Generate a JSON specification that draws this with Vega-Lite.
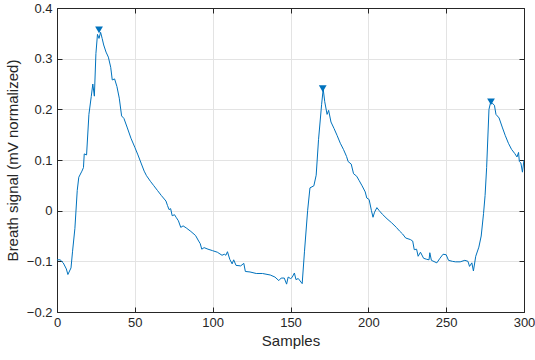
{
  "$schema": "https://vega.github.io/schema/vega-lite/v6.json",
  "width": 467,
  "height": 304,
  "autosize": {"type": "none"},
  "padding": {"left": 57, "top": 8, "right": 11, "bottom": 48},
  "config": {
    "font": "Liberation Sans",
    "view": {"stroke": "#262626", "strokeWidth": 1},
    "axis": {
      "labelFont": "Liberation Sans",
      "titleFont": "Liberation Sans",
      "labelFontSize": 13,
      "titleFontSize": 15,
      "titleFontWeight": "normal",
      "labelColor": "#262626",
      "titleColor": "#262626",
      "tickColor": "#262626",
      "domainColor": "#262626",
      "gridColor": "#e3e3e3",
      "gridOpacity": 1,
      "tickSize": -5
    }
  },
  "datasets": {
    "signal": [
      {"s": 0, "v": -0.097}, {"s": 2, "v": -0.097}, {"s": 4, "v": -0.103}, {"s": 6, "v": -0.115},
      {"s": 7, "v": -0.126}, {"s": 9, "v": -0.113}, {"s": 10, "v": -0.08}, {"s": 11.5, "v": -0.035},
      {"s": 13, "v": 0.04}, {"s": 14, "v": 0.066}, {"s": 16, "v": 0.078}, {"s": 17, "v": 0.085},
      {"s": 17.5, "v": 0.112}, {"s": 19, "v": 0.11}, {"s": 20.5, "v": 0.19}, {"s": 22, "v": 0.225},
      {"s": 23, "v": 0.25}, {"s": 24, "v": 0.226}, {"s": 25, "v": 0.31}, {"s": 26, "v": 0.348},
      {"s": 27, "v": 0.34}, {"s": 28, "v": 0.352}, {"s": 29, "v": 0.34}, {"s": 30, "v": 0.327},
      {"s": 31.5, "v": 0.313}, {"s": 33, "v": 0.303}, {"s": 34.5, "v": 0.283}, {"s": 35.5, "v": 0.258},
      {"s": 37, "v": 0.26}, {"s": 38.5, "v": 0.245}, {"s": 40, "v": 0.222}, {"s": 41.5, "v": 0.187},
      {"s": 43, "v": 0.182}, {"s": 45, "v": 0.165}, {"s": 47.5, "v": 0.143}, {"s": 50, "v": 0.125},
      {"s": 52, "v": 0.11}, {"s": 54, "v": 0.094}, {"s": 56, "v": 0.078}, {"s": 57.5, "v": 0.069},
      {"s": 60, "v": 0.058}, {"s": 62, "v": 0.05}, {"s": 64.5, "v": 0.04}, {"s": 67, "v": 0.03},
      {"s": 70, "v": 0.019}, {"s": 71, "v": 0.01}, {"s": 72, "v": 0.002}, {"s": 73, "v": 0.004},
      {"s": 74, "v": -0.01}, {"s": 75.5, "v": -0.008}, {"s": 76.5, "v": -0.013}, {"s": 78, "v": -0.02},
      {"s": 79.5, "v": -0.033}, {"s": 81, "v": -0.03}, {"s": 83, "v": -0.034}, {"s": 86, "v": -0.041},
      {"s": 89, "v": -0.049}, {"s": 91, "v": -0.06}, {"s": 92, "v": -0.065}, {"s": 93, "v": -0.076},
      {"s": 94.5, "v": -0.073}, {"s": 97, "v": -0.076}, {"s": 100, "v": -0.079}, {"s": 103, "v": -0.082},
      {"s": 106, "v": -0.088}, {"s": 107.5, "v": -0.086}, {"s": 108.5, "v": -0.088}, {"s": 109.5, "v": -0.081},
      {"s": 111, "v": -0.096}, {"s": 112.5, "v": -0.105}, {"s": 113.5, "v": -0.097}, {"s": 115, "v": -0.108},
      {"s": 118, "v": -0.109}, {"s": 120, "v": -0.104}, {"s": 121, "v": -0.12}, {"s": 124, "v": -0.121},
      {"s": 128, "v": -0.124}, {"s": 132, "v": -0.124}, {"s": 137, "v": -0.127}, {"s": 140, "v": -0.131},
      {"s": 142.5, "v": -0.138}, {"s": 144, "v": -0.133}, {"s": 146, "v": -0.133}, {"s": 147.5, "v": -0.145},
      {"s": 148.5, "v": -0.131}, {"s": 150, "v": -0.134}, {"s": 151, "v": -0.132}, {"s": 152.5, "v": -0.123},
      {"s": 153.5, "v": -0.136}, {"s": 155, "v": -0.134}, {"s": 157.5, "v": -0.144}, {"s": 159, "v": -0.08},
      {"s": 161, "v": 0.0}, {"s": 162.5, "v": 0.045}, {"s": 165, "v": 0.049}, {"s": 166.5, "v": 0.07},
      {"s": 168, "v": 0.14}, {"s": 170, "v": 0.21}, {"s": 171, "v": 0.24}, {"s": 172, "v": 0.215},
      {"s": 173.5, "v": 0.19}, {"s": 174.5, "v": 0.198}, {"s": 176, "v": 0.175}, {"s": 178, "v": 0.162},
      {"s": 180, "v": 0.148}, {"s": 182, "v": 0.133}, {"s": 184, "v": 0.121}, {"s": 186, "v": 0.107},
      {"s": 187, "v": 0.097}, {"s": 189, "v": 0.092}, {"s": 190.5, "v": 0.073}, {"s": 192.5, "v": 0.068},
      {"s": 194, "v": 0.06}, {"s": 196, "v": 0.049}, {"s": 198, "v": 0.037}, {"s": 199, "v": 0.025},
      {"s": 200.5, "v": 0.022}, {"s": 202, "v": 0.0}, {"s": 203, "v": -0.013}, {"s": 204, "v": -0.003},
      {"s": 205.5, "v": 0.006}, {"s": 207, "v": 0.0}, {"s": 209, "v": -0.007}, {"s": 212, "v": -0.016},
      {"s": 215, "v": -0.024}, {"s": 218, "v": -0.033}, {"s": 220, "v": -0.04}, {"s": 222, "v": -0.046},
      {"s": 224, "v": -0.054}, {"s": 227, "v": -0.057}, {"s": 228.5, "v": -0.06}, {"s": 229.5, "v": -0.077},
      {"s": 231, "v": -0.076}, {"s": 232, "v": -0.09}, {"s": 233.5, "v": -0.082}, {"s": 235.5, "v": -0.094},
      {"s": 237.5, "v": -0.096}, {"s": 239, "v": -0.097}, {"s": 239.5, "v": -0.083}, {"s": 240.5, "v": -0.098},
      {"s": 244, "v": -0.103}, {"s": 246, "v": -0.094}, {"s": 248, "v": -0.086}, {"s": 250, "v": -0.087},
      {"s": 251.5, "v": -0.098}, {"s": 254, "v": -0.1}, {"s": 256, "v": -0.101}, {"s": 259, "v": -0.101},
      {"s": 262, "v": -0.098}, {"s": 264, "v": -0.1}, {"s": 265, "v": -0.11}, {"s": 266.5, "v": -0.103},
      {"s": 267.5, "v": -0.119}, {"s": 269, "v": -0.09}, {"s": 271, "v": -0.072}, {"s": 272.5, "v": -0.05},
      {"s": 274, "v": -0.006}, {"s": 275, "v": 0.03}, {"s": 276, "v": 0.085}, {"s": 277.5, "v": 0.2},
      {"s": 278.5, "v": 0.213}, {"s": 280, "v": 0.211}, {"s": 281, "v": 0.208}, {"s": 282, "v": 0.19},
      {"s": 284, "v": 0.183}, {"s": 286, "v": 0.165}, {"s": 288, "v": 0.148}, {"s": 290, "v": 0.133},
      {"s": 292, "v": 0.121}, {"s": 294, "v": 0.113}, {"s": 295.5, "v": 0.106}, {"s": 296.5, "v": 0.115},
      {"s": 297, "v": 0.097}, {"s": 298, "v": 0.094}, {"s": 299, "v": 0.076}, {"s": 300, "v": 0.1}
    ],
    "peaks": [
      {"s": 27, "v": 0.357}, {"s": 170.7, "v": 0.241}, {"s": 278.8, "v": 0.215}
    ]
  },
  "resolve": {"axis": {"x": "independent", "y": "independent"}},
  "layer": [
    {
      "data": {"name": "signal"},
      "mark": {"type": "line", "color": "#0072BD", "strokeWidth": 1, "clip": true},
      "encoding": {
        "x": {
          "field": "s", "type": "quantitative",
          "scale": {"domain": [0, 300], "nice": false, "zero": false},
          "axis": {"orient": "bottom", "title": "Samples", "values": [0, 50, 100, 150, 200, 250, 300], "grid": true, "labelPadding": 9, "titlePadding": 4, "labelFlush": false}
        },
        "y": {
          "field": "v", "type": "quantitative",
          "scale": {"domain": [-0.2, 0.4], "nice": false, "zero": false},
          "axis": {"orient": "left", "title": "Breath signal (mV normalized)", "values": [-0.2, -0.1, 0, 0.1, 0.2, 0.3, 0.4], "grid": true, "labelPadding": 10, "titlePadding": 6, "labelExpr": "datum.value == 0 ? '0' : format(datum.value, '.1f')"}
        }
      }
    },
    {
      "data": {"name": "peaks"},
      "mark": {"type": "point", "shape": "triangle-down", "filled": true, "color": "#0072BD", "opacity": 1, "size": 60},
      "encoding": {
        "x": {
          "field": "s", "type": "quantitative",
          "axis": {"orient": "top", "title": null, "labels": false, "grid": false, "values": [0, 50, 100, 150, 200, 250, 300]}
        },
        "y": {
          "field": "v", "type": "quantitative",
          "axis": {"orient": "right", "title": null, "labels": false, "grid": false, "values": [-0.2, -0.1, 0, 0.1, 0.2, 0.3, 0.4]}
        }
      }
    }
  ]
}
